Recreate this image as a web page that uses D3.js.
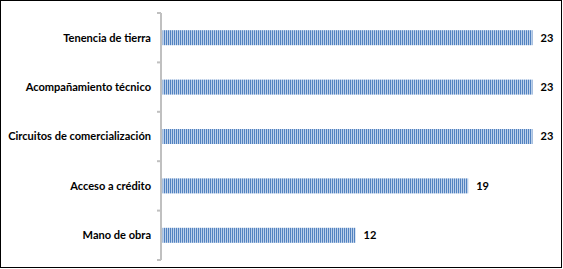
<!DOCTYPE html>
<html>
<head>
<meta charset="utf-8">
<script src="https://cdn.jsdelivr.net/npm/d3@7"></script>
<style>
  body { margin: 0; background: #fff; }
</style>
</head>
<body>
<div id="chart"></div>
<script>
// data
var categories = ["Tenencia de tierra", "Acompañamiento técnico", "Circuitos de comercialización", "Acceso a crédito", "Mano de obra"];
var values = [23, 23, 23, 19, 12];

var W = 563, H = 269;
var margin = {top: 13, right: 0, bottom: 9, left: 161};
var plotRight = 532.5;
var barH = 15;

var svg = d3.select("#chart")
	.append("svg")
	.attr("width", W)
	.attr("height", H);

// pattern for the striped bars
var defs = svg.append("defs");
var pat = defs.append("pattern")
	.attr("id", "stripes")
	.attr("patternUnits", "userSpaceOnUse")
	.attr("width", 2)
	.attr("height", 4);
pat.append("rect").attr("width", 2).attr("height", 4).attr("fill", "#bcd0ea");
pat.append("rect").attr("width", 1).attr("height", 4).attr("fill", "#5282c0");

// outer border
svg.append("rect")
	.attr("x", 0.5).attr("y", 0.5)
	.attr("width", 561).attr("height", 267)
	.attr("fill", "none")
	.attr("stroke", "#000")
	.attr("stroke-width", 1);

var x = d3.scaleLinear()
	.domain([0, 23])
	.range([margin.left + 1.5, plotRight]);

var step = (H - margin.bottom - margin.top) / categories.length;
var pad = 1 - barH / step;
var y = d3.scaleBand()
	.domain(categories)
	.range([margin.top, H - margin.bottom])
	.paddingInner(pad)
	.paddingOuter(pad / 2);

// y axis: line plus tick marks between categories
var axis = svg.append("g")
	.attr("transform", "translate(" + margin.left + ",0)");
var tickYs = d3.range(categories.length + 1).map(function(i) { return margin.top + i * step; });

axis.append("line")
	.attr("x1", 0).attr("x2", 0)
	.attr("y1", margin.top).attr("y2", H - margin.bottom)
	.attr("stroke", "#c0c0c0")
	.attr("stroke-width", 2);
axis.selectAll(".sep")
	.data(tickYs)
	.enter()
	.append("line")
	.attr("class", "sep")
	.attr("x1", -4).attr("x2", 0)
	.attr("y1", function(d) { return d; })
	.attr("y2", function(d) { return d; })
	.attr("stroke", "#c0c0c0")
	.attr("stroke-width", 2);

// bars
svg.append("g")
	.selectAll("rect")
	.data(values)
	.enter()
	.append("rect")
	.attr("x", x(0))
	.attr("y", function(d, i) { return y(categories[i]); })
	.attr("width", function(d) { return x(d) - x(0); })
	.attr("height", y.bandwidth())
	.attr("fill", "url(#stripes)");

// category labels
var font = "Lato, 'Open Sans', sans-serif";
var labels = svg.append("g")
	.selectAll("text")
	.data(categories)
	.enter()
	.append("text")
	.attr("x", 151)
	.attr("y", function(d) { return y(d) + y.bandwidth() / 2; })
	.attr("dy", "0.35em")
	.attr("text-anchor", "end")
	.style("font-family", font)
	.style("font-weight", "bold")
	.style("font-size", "11px")
	.attr("fill", "#000")
	.text(function(d) { return d; });

// fit the longest label to the width seen in the picture
var longest = d3.max(labels.nodes(), function(n) { return n.getComputedTextLength(); });
var fs = 11 * 143 / longest;
labels.style("font-size", fs + "px");

// value labels
svg.append("g")
	.selectAll("text")
	.data(values)
	.enter()
	.append("text")
	.attr("x", function(d) { return x(d) + 8; })
	.attr("y", function(d, i) { return y(categories[i]) + y.bandwidth() / 2; })
	.attr("dy", "0.35em")
	.style("font-family", font)
	.style("font-weight", "bold")
	.style("font-size", fs + "px")
	.attr("fill", "#000")
	.text(function(d) { return d; });
</script>
</body>
</html>
